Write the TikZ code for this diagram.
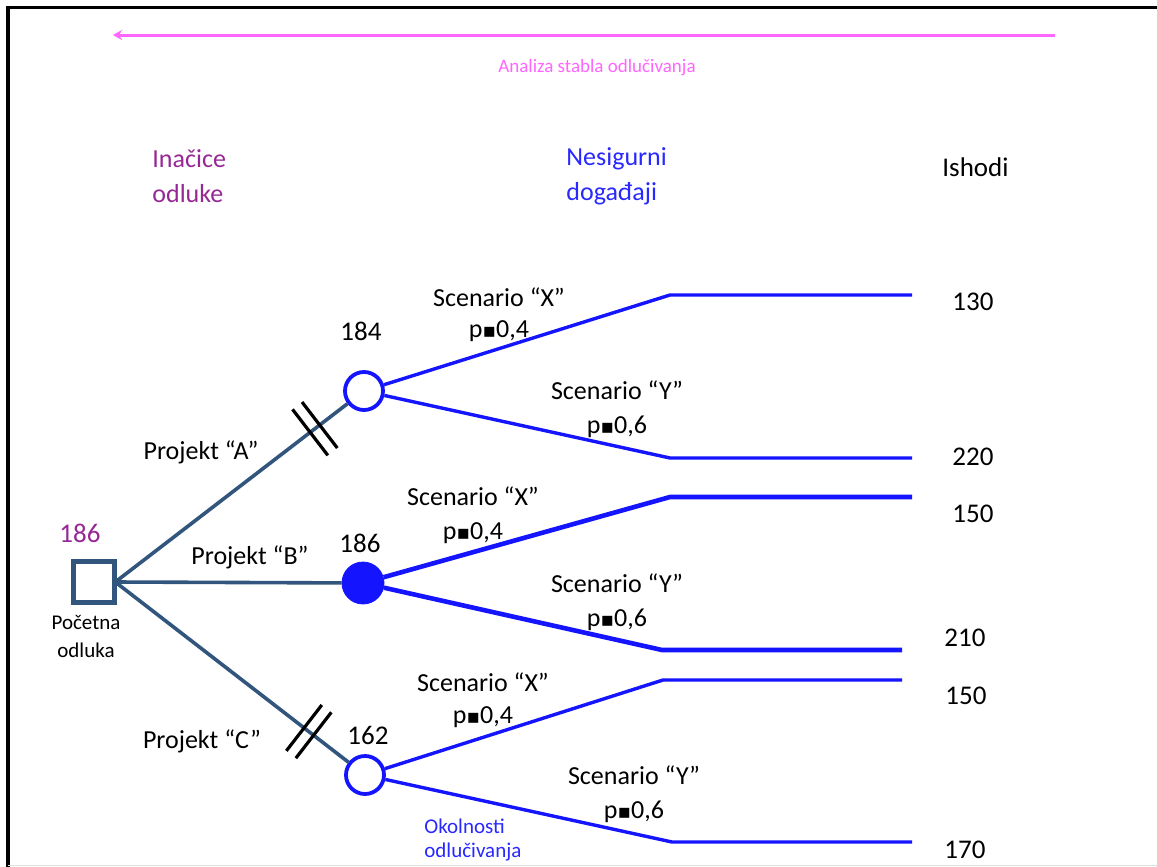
\documentclass[tikz,border=0pt]{standalone}
\usepackage{fontspec}
\setmainfont{Carlito}
\newfontfamily\dvfont{DejaVu Sans}
\usetikzlibrary{calc,arrows.meta}
\definecolor{edgeblue}{RGB}{50,85,125}
\definecolor{brblue}{RGB}{20,20,255}
\definecolor{pinkc}{RGB}{255,102,255}
\definecolor{purplec}{RGB}{150,40,150}
\definecolor{headblue}{RGB}{40,40,255}
\newcommand{\psq}{{\dvfont\fontsize{10}{10}\selectfont ▪}}
\tikzset{
  lbl/.style={font=\fontsize{13}{15}\selectfont, inner sep=0pt, align=center, text=black},
  scen/.style={font=\fontsize{13}{16}\selectfont, inner sep=0pt, align=center, text=black},
  num/.style={font=\fontsize{13.5}{16}\selectfont, inner sep=0pt, text=black},
  head/.style={font=\fontsize{13}{17.5}\selectfont, inner sep=0pt, align=left, anchor=west},
  small/.style={font=\fontsize{10.5}{14}\selectfont, inner sep=0pt, align=center},
  dec/.style={draw=edgeblue, line width=1.8pt, minimum size=19.5pt, inner sep=0pt, rectangle, fill=white},
  chance/.style={draw=brblue, line width=1.9pt, circle, minimum size=19pt, inner sep=0pt, fill=white},
  chancefull/.style={draw=brblue, circle, minimum size=21pt, inner sep=0pt, fill=brblue},
  dedge/.style={draw=edgeblue, line width=1.8pt},
  bedge/.style={draw=brblue, line width=1.7pt},
  bedgethick/.style={draw=brblue, line width=2.3pt},
  slash/.style={draw=black, line width=1.6pt}
}
\begin{document}
\begin{tikzpicture}[x=0.5pt,y=-0.5pt]
\useasboundingbox (0,0) rectangle (1157,867);
\fill[white] (0,0) rectangle (1157,867);
% frame
\draw[black, line width=1.6pt] (6,7.5) -- (1157,7.5);
\draw[black, line width=2pt] (8,6) -- (8,867);
\draw[black!12, line width=0.6pt] (8,865.5) -- (1157,865.5);

% analysis arrow
\coordinate (arrR) at (1055,35);
\coordinate (arrL) at (113,35);
\draw[pinkc, line width=1.5pt, -{Stealth[length=4.5pt,width=5pt]}] (arrR) -- (arrL);
\node[font=\fontsize{9.5}{11}\selectfont, text=pinkc, inner sep=0pt] (an) at (597,68) {Analiza stabla odlučivanja};

% headers
\node[head, text=purplec] (h1) at (152,176) {Inačice\\odluke};
\node[head, text=headblue] (h2) at (566,176) {Nesigurni\\događaji};
\node[head, text=black, font=\fontsize{13.5}{16}\selectfont] (h3) at (942,167) {Ishodi};

% nodes
\node[dec] (sq) at (94,582) {};
\node[chance] (A) at (364,391) {};
\node[chancefull] (B) at (363,583) {};
\node[chance] (C) at (365,775) {};

\node[num, text=purplec] (v0) at (80,533) {186};
\node[small, text=black] (pl) at (86,636) {Početna\\odluka};
\node[num] (vA) at (361,331) {184};
\node[num] (vB) at (360,543) {186};
\node[num] (vC) at (368,735) {162};

% decision edges
\draw[dedge] (sq.east) -- (A) coordinate[pos=0.86] (mA);
\draw[dedge] (sq.east) -- (B);
\draw[dedge] (sq.east) -- (C) coordinate[pos=0.83] (mC);
\draw[draw=edgeblue, line width=1.8pt] (sq.north west) rectangle (sq.south east);

% double slash marks
\foreach \m/\t in {mA/A, mC/C}{
  \coordinate (p1) at ($(\m)!3pt!(\t)$);
  \coordinate (p2) at ($(\m)!-3pt!(\t)$);
  \draw[slash] ($(p1)!14.5pt!90:(\t)$) -- ($(p1)!14.5pt!-90:(\t)$);
  \draw[slash] ($(p2)!14.5pt!90:(\t)$) -- ($(p2)!14.5pt!-90:(\t)$);
}

\node[lbl] (pa) at (201,452) {Projekt “A”};
\node[lbl] (pb) at (250,557) {Projekt “B”};
\node[lbl] (pc) at (202,741) {Projekt “C”};

% branch coordinates
\coordinate (a1) at (670,295); \coordinate (ea1) at (912,295);
\coordinate (a2) at (670,458); \coordinate (ea2) at (912,458);
\coordinate (b1) at (670,497); \coordinate (eb1) at (912,497);
\coordinate (b2) at (662,650); \coordinate (eb2) at (902,650);
\coordinate (c1) at (663,680); \coordinate (ec1) at (902,680);
\coordinate (c2) at (672,842); \coordinate (ec2) at (912,842);

\draw[bedge] (A) -- (a1) -- (ea1);
\draw[bedge] (A) -- (a2) -- (ea2);
\draw[bedgethick] (B) -- (b1) -- (eb1);
\draw[bedgethick] (B) -- (b2) -- (eb2);
\draw[bedge] (C) -- (c1) -- (ec1);
\draw[bedge] (C) -- (c2) -- (ec2);

% scenario labels
\node[scen] (sax) at (499,315) {Scenario “X”\\[-0.5pt]p\psq0,4};
\node[scen] (say) at (617,409) {Scenario “Y”\\[1pt]p\psq0,6};
\node[scen] (sbx) at (473,515) {Scenario “X”\\[1pt]p\psq0,4};
\node[scen] (sby) at (617,602) {Scenario “Y”\\[1pt]p\psq0,6};
\node[scen] (scx) at (483,700) {Scenario “X”\\[0pt]p\psq0,4};
\node[scen] (scy) at (634,794) {Scenario “Y”\\[1pt]p\psq0,6};

% outcomes
\node[num] (o1) at (973,302) {130};
\node[num] (o2) at (973,457) {220};
\node[num] (o3) at (973,514) {150};
\node[num] (o4) at (965,638) {210};
\node[num] (o5) at (966,696) {150};
\node[num] (o6) at (965,850) {170};

\node[small, text=headblue, align=left, anchor=west, font=\fontsize{10.5}{12}\selectfont] (ok) at (424,840) {Okolnosti\\odlučivanja};
\end{tikzpicture}
\end{document}
